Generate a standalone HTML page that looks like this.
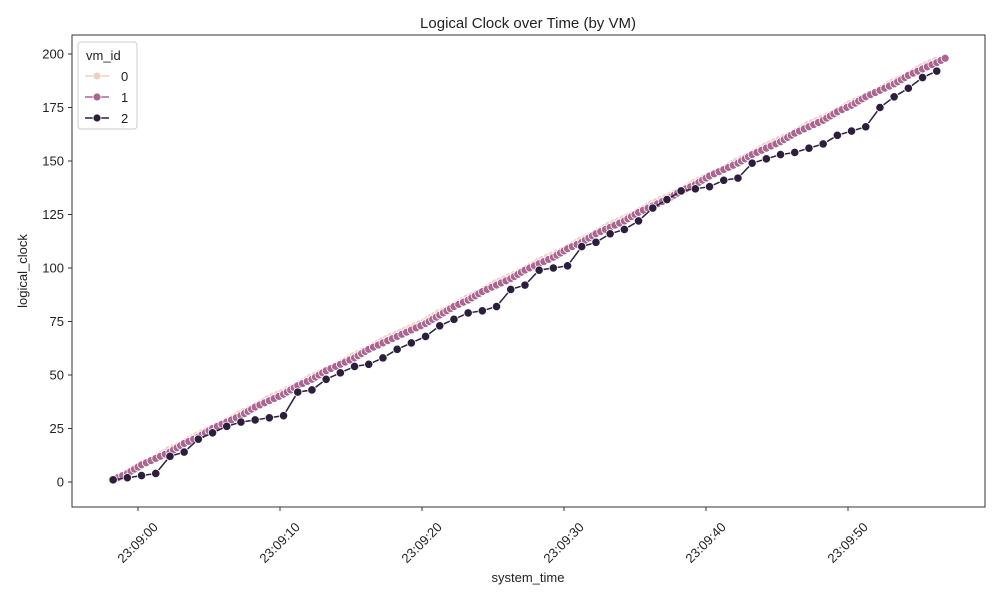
<!DOCTYPE html>
<html><head><meta charset="utf-8"><style>
body{margin:0;background:#fff;font-family:"Liberation Sans","DejaVu Sans",sans-serif}
svg text{font-family:"Liberation Sans","DejaVu Sans",sans-serif;fill:#222}
</style></head><body>
<svg id="chart" width="1000" height="600" xmlns="http://www.w3.org/2000/svg">
<text x="528" y="28" font-size="15" text-anchor="middle">Logical Clock over Time (by VM)</text>
<rect x="72" y="35" width="913" height="472" fill="none" stroke="#333" stroke-width="1"/>
<g id="axes"></g>
<g id="series"></g>
<text x="528" y="582" font-size="13" text-anchor="middle">system_time</text>
<text x="27" y="271" font-size="13" text-anchor="middle" transform="rotate(-90 27 271)">logical_clock</text>
<g>
<rect x="78" y="42" width="59" height="87" rx="3" fill="#fff" fill-opacity="0.85" stroke="#ccc"/>
<text x="86" y="60" font-size="13">vm_id</text>
<g><line x1="85" x2="109" y1="76" y2="76" stroke="#efcfc2" stroke-width="1.5"/><circle cx="97" cy="76" r="4" fill="#efcfc2" stroke="#fff" stroke-width="0.8"/><text x="121" y="81" font-size="13">0</text></g>
<g><line x1="85" x2="109" y1="97" y2="97" stroke="#ab6590" stroke-width="1.5"/><circle cx="97" cy="97" r="4" fill="#ab6590" stroke="#fff" stroke-width="0.8"/><text x="121" y="102" font-size="13">1</text></g>
<g><line x1="85" x2="109" y1="118" y2="118" stroke="#2d1e3e" stroke-width="1.5"/><circle cx="97" cy="118" r="4" fill="#2d1e3e" stroke="#fff" stroke-width="0.8"/><text x="121" y="123" font-size="13">2</text></g>
</g>
</svg>
<script>
const yTicks=[0,25,50,75,100,125,150,175,200];
const xTickSeconds=[0,10,20,30,40,50];
const xTickLabels=["23:09:00","23:09:10","23:09:20","23:09:30","23:09:40","23:09:50"];
const startTime=-1.75; // seconds relative to 23:09:00
const vm2Clock=[1,2,3,4,12,14,20,23,26,28,29,30,31,42,43,48,51,54,55,58,62,65,68,73,76,79,80,82,90,92,99,100,101,110,112,116,118,122,128,132,136,137,138,141,142,149,151,153,154,156,158,162,164,166,175,180,184,189,192];
const vm1Clock=[1,4,8,11,14,18,21,25,28,31,35,38,41,45,48,52,55,58,62,65,68,71,74,78,82,85,89,92,95,99,102,105,109,112,116,119,122,126,129,132,136,139,143,146,149,153,156,159,163,166,169,173,176,180,183,186,190,193,196,198];
const vm0Clock=[1,4,8,11,15,18,22,25,28,32,35,39,42,45,49,52,55,59,62,66,69,72,75,79,82,86,89,93,96,99,103,106,109,113,116,120,123,126,130,133,136,140,143,146,150,153,157,160,163,167,170,173,177,180,183,187,190,194,197];
const NS="http://www.w3.org/2000/svg";
const xS=t=>138+t*14.2, yS=v=>482-v*2.14;
const axes=document.getElementById('axes'), series=document.getElementById('series');
function mk(tag,attrs,parent){const e=document.createElementNS(NS,tag);for(const k in attrs)e.setAttribute(k,attrs[k]);parent.appendChild(e);return e;}
yTicks.forEach(v=>{
  const g=mk('g',{},axes);
  
  
  mk('line',{x1:68,x2:72,y1:yS(v),y2:yS(v),stroke:'#333'},g);
  const t=mk('text',{x:64,y:yS(v)+4.5,'font-size':13,'text-anchor':'end'},g);t.textContent=v;
});
xTickSeconds.forEach((s,i)=>{
  const g=mk('g',{},axes);
  
  
  const x=xS(s);
  mk('line',{x1:x,x2:x,y1:507,y2:511,stroke:'#333'},g);
  const t=mk('text',{x:x,y:547,'font-size':13,'text-anchor':'middle',transform:`rotate(-45 ${x} 543)`},g);t.textContent=xTickLabels[i];
});
function eventsFromAnchors(anchors,offset){
  const pts=[];
  for(let k=0;k<anchors.length-1;k++){
    const a=anchors[k],b=anchors[k+1],span=(k==anchors.length-2&&b-a<3)?(b-a)/3.37:1;
    for(let v=a;v<b;v++)pts.push([startTime+offset+k+(v-a)/(b-a)*span,v]);
  }
  const last=anchors[anchors.length-1],a2=anchors[anchors.length-2];
  pts.push([startTime+offset+anchors.length-2+((last-a2<3)?(last-a2)/3.37:1),last]);
  return pts;
}
function draw(pts,color,name,r){
  const g=mk('g',{},series);
  
  
  mk('polyline',{points:pts.map(p=>xS(p[0])+','+yS(p[1])).join(' '),fill:'none',stroke:color,'stroke-width':1.5},g);
  pts.forEach(p=>{
    const c=mk('circle',{cx:xS(p[0]),cy:yS(p[1]),r:r,fill:color,stroke:'#fff','stroke-width':0.8},g);
    
    
  });
}
draw(eventsFromAnchors(vm0Clock,-0.1),'#efcfc2','series-vm0',4);
draw(eventsFromAnchors(vm1Clock,0),'#ab6590','series-vm1',4);
draw(vm2Clock.map((v,i)=>[startTime+i,v]),'#2d1e3e','series-vm2',4.2);
</script>
</body></html>
